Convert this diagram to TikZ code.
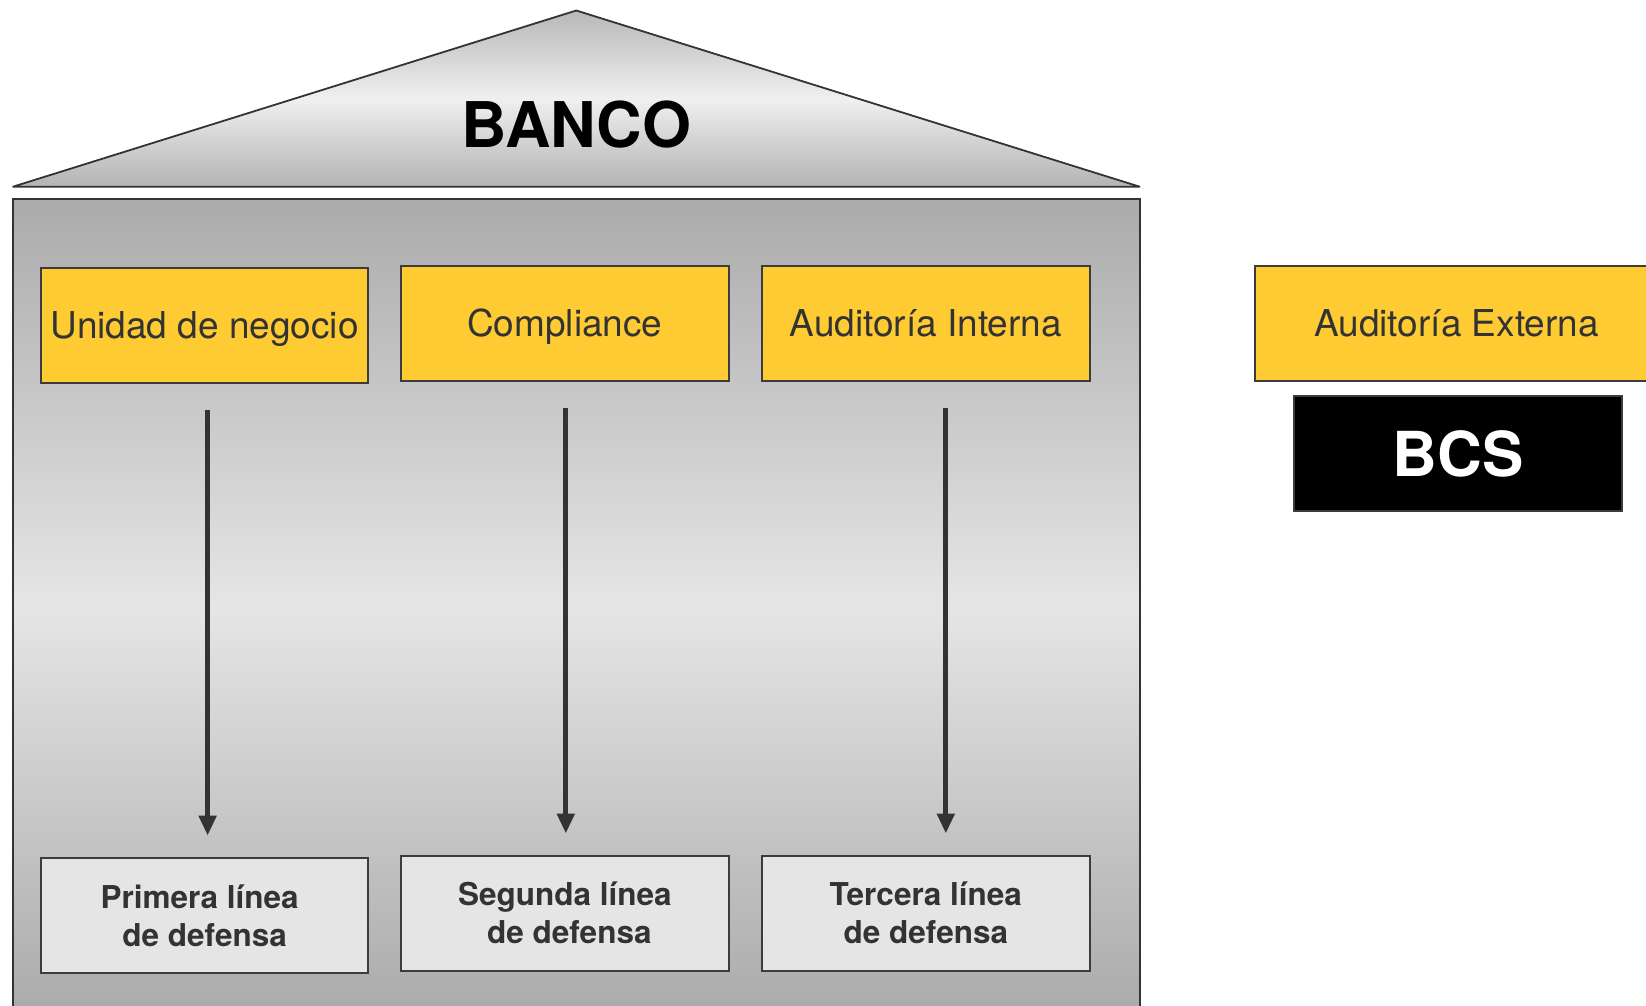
\documentclass[tikz,border=0pt]{standalone}
\usepackage{fontspec}
\setmainfont{TeX Gyre Heros}
\usetikzlibrary{arrows.meta}
\definecolor{shdark}{gray}{0.67}
\definecolor{shlight}{gray}{0.90}
\definecolor{ybox}{HTML}{FECB33}
\definecolor{bordr}{HTML}{3C3C3C}
\definecolor{txt}{HTML}{333333}
\definecolor{lbox}{HTML}{E5E5E5}
\tikzset{
  topbox/.style={draw=bordr, line width=2pt, fill=ybox, minimum width=327.5pt, minimum height=115.4pt, inner sep=0pt, text height=26.6pt, text depth=0pt, text=txt, font=\fontsize{37}{44}\selectfont},
  botbox/.style={draw=bordr, line width=2pt, fill=lbox, minimum width=327.5pt, minimum height=115.4pt, inner sep=0pt, text=txt, align=center, font=\fontsize{31.5}{38}\selectfont\bfseries},
  arr/.style={draw=txt, line width=5pt, -{Triangle[width=17pt,length=20pt]}}
}
\begin{document}
\begin{tikzpicture}[x=1pt,y=-1pt]
\useasboundingbox (0,0) rectangle (1646,1005);
\clip (0,0) rectangle (1646,1005);
% roof
\path[draw=txt, line width=1.8pt, miter limit=1, top color=shdark!85!white, bottom color=shdark!90!white, middle color=shlight!60!white]
  (576.3,10.5) -- (1140,186.8) -- (12.6,186.8) -- cycle;
% building body
\path[draw=txt, line width=2pt, top color=shdark, bottom color=shdark, middle color=shlight]
  (12.6,1012) -- (12.6,199.4) -- (1140,199.4) -- (1140,1012);
\node (banco) at (576.3,125) {\fontsize{63}{70}\selectfont\bfseries BANCO};
% top boxes
\node[topbox] (u) at (204.6,325.4) {Unidad de negocio};
\node[topbox] (c) at (564.8,323.3) {Compliance};
\node[topbox] (ai) at (925.8,323.3) {Auditoría Interna};
\node[topbox, minimum width=405pt] (ae) at (1457.5,323.3) {\hspace*{-2pt}Auditoría Externa};
\node[draw=bordr, line width=2pt, fill=black, minimum width=328pt, minimum height=115.5pt, inner sep=0pt, text=white, font=\fontsize{62}{70}\selectfont\bfseries] (bcs) at (1458,453.5) {BCS};
% bottom boxes
\node[botbox] (p) at (204.6,915.3) {Primera línea\hspace*{10pt}\\de defensa};
\node[botbox] (s) at (564.8,913.2) {Segunda línea\\\hspace*{9pt}de defensa};
\node[botbox] (t) at (925.8,913.2) {Tercera línea\\de defensa};
% arrows
\draw[arr] ([xshift=3pt,yshift=-26pt]u.south) -- ([xshift=3pt,yshift=21pt]p.north);
\draw[arr] ([xshift=1pt,yshift=-26pt]c.south) -- ([xshift=1pt,yshift=21pt]s.north);
\draw[arr] ([xshift=20pt,yshift=-26pt]ai.south) -- ([xshift=20pt,yshift=21pt]t.north);
\end{tikzpicture}
\end{document}
